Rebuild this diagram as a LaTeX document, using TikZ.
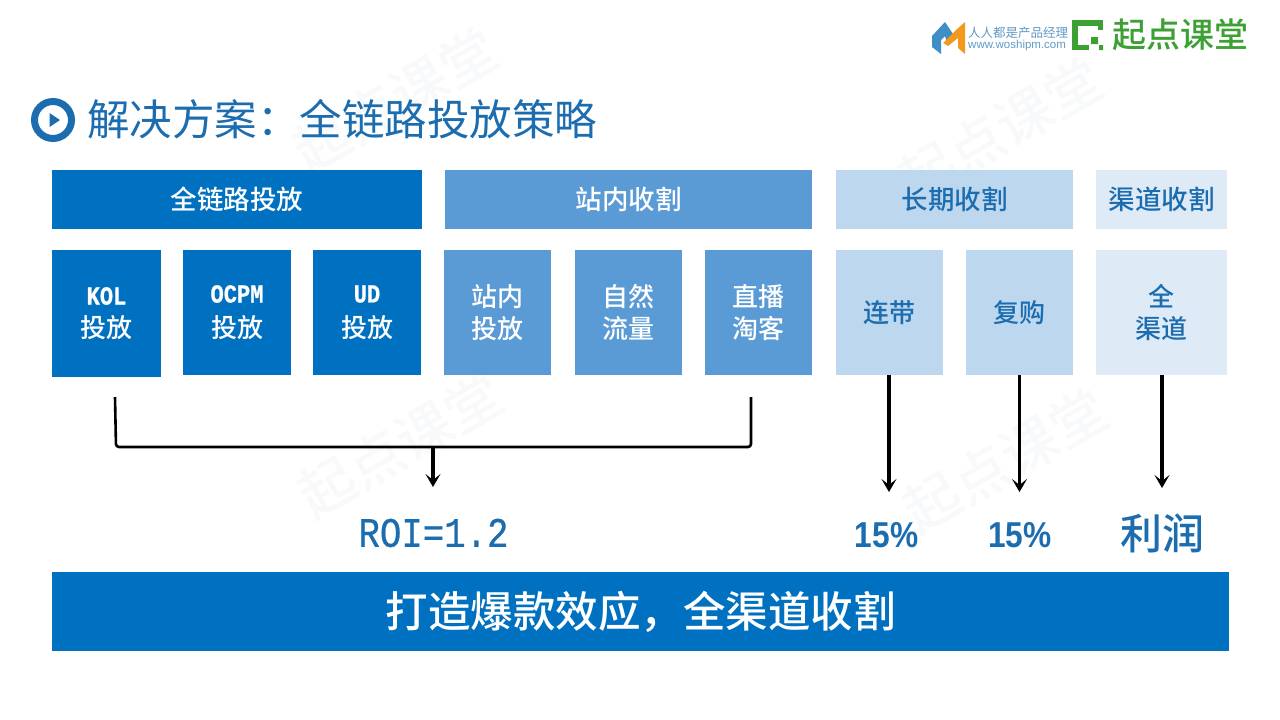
\documentclass[tikz,border=0pt]{standalone}
\usepackage{fontspec}
\setmainfont{Noto Sans CJK SC}[BoldFont={Noto Sans CJK SC Medium}]
\newfontfamily\latinmono{Liberation Mono}[FakeStretch=0.85,FakeBold=0.6]
\newfontfamily\latinsans{Liberation Sans}
\newfontfamily\latinpct{Liberation Sans}[FakeStretch=0.88]
\usetikzlibrary{arrows.meta}
\definecolor{deepblue}{HTML}{0070C0}
\definecolor{midblue}{HTML}{5B9BD5}
\definecolor{paleblue}{HTML}{BDD7EE}
\definecolor{faintblue}{HTML}{DEEAF6}
\definecolor{inkblue}{HTML}{1B6DAF}
\definecolor{logogreen}{HTML}{3CA032}
\definecolor{logoblue}{HTML}{3F8FC6}
\definecolor{logoorange}{HTML}{F39A1E}
\definecolor{markgray}{HTML}{F8F9FB}
\tikzset{
  headbox/.style={minimum height=59pt,inner sep=0pt,font=\bfseries\fontsize{26.5}{30}\selectfont},
  cellbox/.style={minimum height=125pt,inner sep=0pt,align=center,font=\bfseries\fontsize{26}{32}\selectfont},
  result/.style={text=inkblue,inner sep=0pt,font=\bfseries\fontsize{42}{46}\selectfont},
  watermark/.style={text=markgray,rotate=30,font=\bfseries\fontsize{56}{60}\selectfont},
  flow/.style={line width=3.2pt,-{Stealth[length=13pt,width=15pt,inset=6pt]}},
}
\newcommand{\tinylatin}[1]{{\latinmono #1}}
\begin{document}
\begin{tikzpicture}[x=1pt,y=-1pt]
  \useasboundingbox (0,0) rectangle (1280,720);
  %% watermark
  \node[watermark] (markA) at (395,100) {起点课堂};
  \node[watermark] (markB) at (1000,130) {起点课堂};
  \node[watermark] (markC) at (400,445) {起点课堂};
  \node[watermark] (markD) at (1005,460) {起点课堂};
  %% logos
  \fill[logoblue] (932,36) -- (945,22) -- (955,37) -- (947,43) -- (945,36) -- (941,40) -- (941,54) -- (932,47) -- cycle;
  \fill[logoorange] (943,43) -- (956,30) -- (965,22) -- (965,54) -- (958,48) -- (958,38) -- (948,46) -- cycle;
  \node[anchor=west,inner sep=0pt,text=inkblue!70,font=\fontsize{12.5}{14}\selectfont] (siteA) at (968,33) {人人都是产品经理};
  \node[anchor=west,inner sep=0pt,text=inkblue!70,font=\latinsans\fontsize{11.5}{13}\selectfont] (siteB) at (968,46) {www.woshipm.com};
  \draw[logogreen,line width=5.5pt] (1100.5,30) -- (1100.5,23) -- (1075,23) -- (1075,47.5) -- (1089,47.5);
  \fill[logogreen] (1091,37) rectangle (1098,44) (1099,45) rectangle (1103,50);
  \node[anchor=west,inner sep=0pt,text=logogreen,font=\bfseries\fontsize{34}{36}\selectfont] (brand) at (1112,35) {起点课堂};
  %% title
  \draw[inkblue,line width=7pt] (53,120) circle (18.5pt);
  \fill[inkblue] (49.5,113) -- (60,120) -- (49.5,127) -- cycle;
  \node[anchor=west,inner sep=0pt,text=inkblue,font=\fontsize{42.5}{46}\selectfont] (title) at (87,119) {解决方案：全链路投放策略};
  %% headers
  \node[headbox,fill=deepblue,text=white,minimum width=370pt] (headA) at (237,199.5) {全链路投放};
  \node[headbox,fill=midblue,text=white,minimum width=367pt] (headB) at (628.5,199.5) {站内收割};
  \node[headbox,fill=paleblue,text=inkblue,minimum width=237pt] (headC) at (954.5,199.5) {长期收割};
  \node[headbox,fill=faintblue,text=inkblue,minimum width=131pt] (headD) at (1161.5,199.5) {渠道收割};
  %% cells
  \node[cellbox,fill=deepblue,text=white,minimum width=109pt,minimum height=127pt] (kol) at (106.5,313.5) {\tinylatin{KOL}\\[1pt]投放};
  \node[cellbox,fill=deepblue,text=white,minimum width=108pt] (ocpm) at (237,312.5) {\tinylatin{OCPM}\\[3pt]投放};
  \node[cellbox,fill=deepblue,text=white,minimum width=108pt] (ud) at (367,312.5) {\tinylatin{UD}\\[3pt]投放};
  \node[cellbox,fill=midblue,text=white,minimum width=107pt] (inner) at (497.5,312.5) {站内\\投放};
  \node[cellbox,fill=midblue,text=white,minimum width=107pt] (nature) at (628.5,312.5) {自然\\流量};
  \node[cellbox,fill=midblue,text=white,minimum width=107pt] (live) at (758.5,312.5) {直播\\淘客};
  \node[cellbox,fill=paleblue,text=inkblue,minimum width=107pt] (joint) at (889.5,312.5) {连带};
  \node[cellbox,fill=paleblue,text=inkblue,minimum width=107pt] (again) at (1019.5,312.5) {复购};
  \node[cellbox,fill=faintblue,text=inkblue,minimum width=131pt] (all) at (1161.5,312.5) {全\\渠道};
  %% results
  \node[text=inkblue,inner sep=0pt,font=\latinmono\fontsize{42}{44}\selectfont] (roi) at (433.5,533) {ROI=1.2};
  \node[text=inkblue,inner sep=0pt,font=\latinpct\bfseries\fontsize{36}{40}\selectfont] (pctA) at (886.5,535) {15\%};
  \node[text=inkblue,inner sep=0pt,font=\latinpct\bfseries\fontsize{36}{40}\selectfont] (pctB) at (1020,535) {15\%};
  \node[result] (profit) at (1162.5,533) {利润};
  %% bar
  \node[fill=deepblue,text=white,minimum width=1177pt,minimum height=79pt,inner sep=0pt,font=\bfseries\fontsize{42.5}{46}\selectfont] (bar) at (640.5,611.5) {打造爆款效应，全渠道收割};
  %% bracket and arrows
  \coordinate (leftend) at (115,397);
  \coordinate (rightend) at (751,397);
  \coordinate (bracketmid) at (433,447);
  \coordinate (roitop) at (433,487);
  \draw[line width=2.6pt,rounded corners=3pt] (leftend) -- (116,447) -- (751,447) -- (rightend);
  \draw[flow] (bracketmid) -- (roitop);
  \coordinate (jointtip) at (889,492);
  \coordinate (againtip) at (1019.5,492);
  \coordinate (alltip) at (1162,488);
  \draw[flow] (joint.south -| jointtip) -- (jointtip);
  \draw[flow] (again.south) -- (againtip);
  \draw[flow] (all.south -| alltip) -- (alltip);
\end{tikzpicture}
\end{document}
